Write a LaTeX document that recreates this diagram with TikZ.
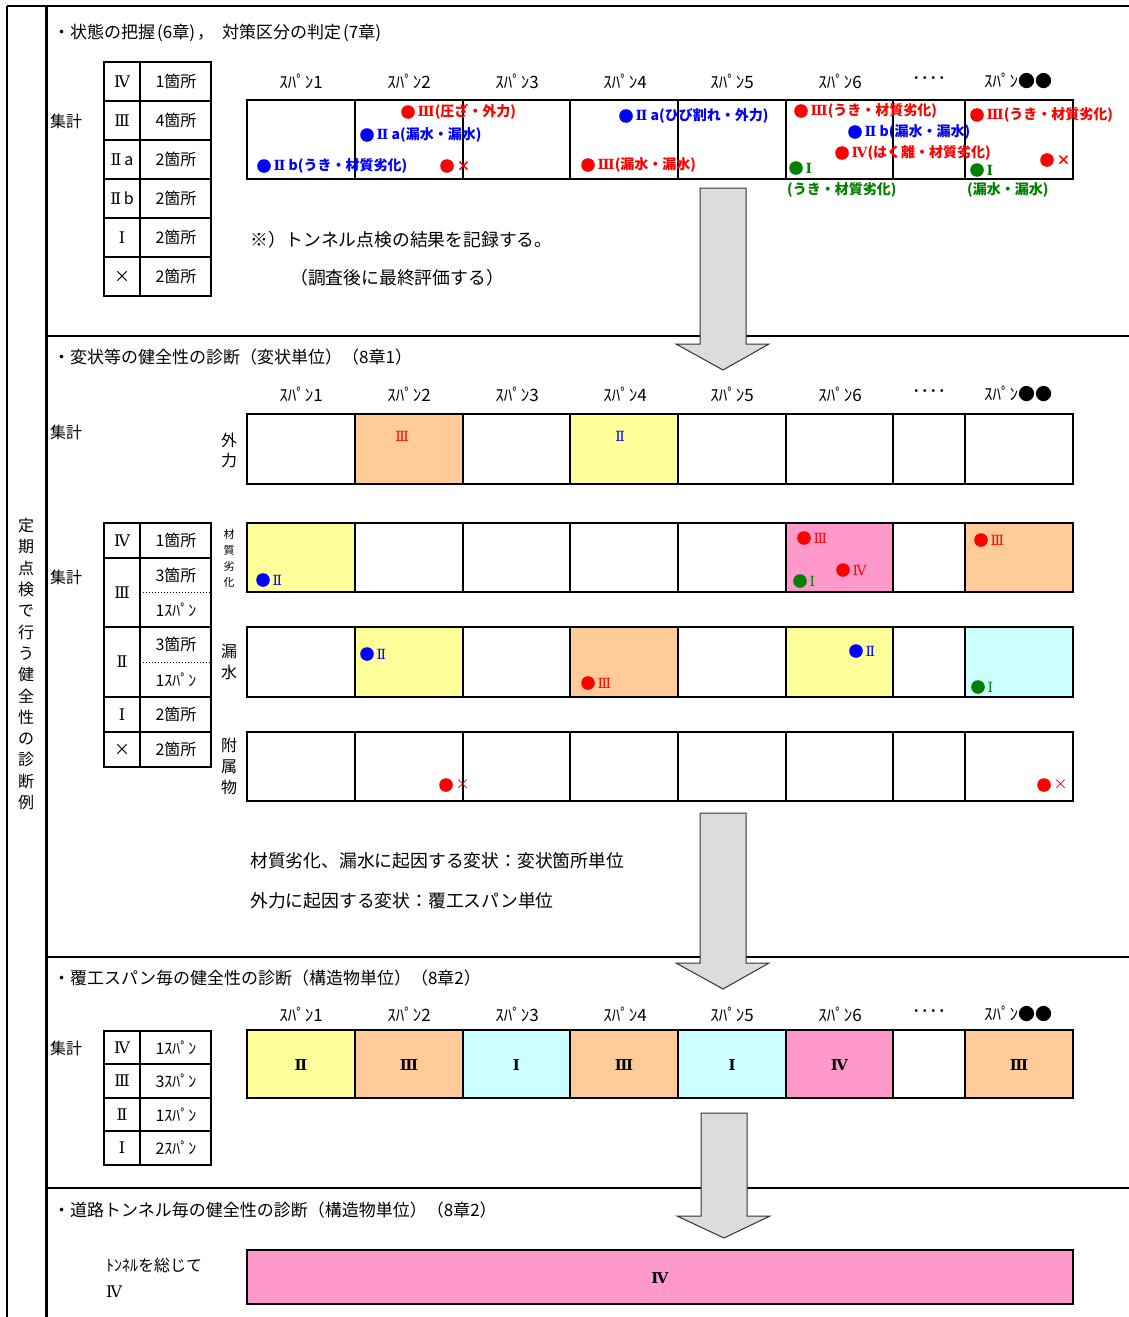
\documentclass[tikz,border=0pt]{standalone}
\usepackage{fontspec}
\setmainfont{Noto Sans CJK JP}
\newfontfamily\rmnfont{DejaVu Serif}
\newcommand\RN[1]{{\rmnfont #1}}
\newcommand\myfs[1]{\fontsize{#1}{#1}\selectfont}
\definecolor{cy}{HTML}{FFFF99}
\definecolor{co}{HTML}{FFCC99}
\definecolor{cp}{HTML}{FF99CC}
\definecolor{cc}{HTML}{CCFFFF}
\definecolor{ag}{HTML}{DCDCDC}
\definecolor{rd}{HTML}{FF0000}
\definecolor{bl}{HTML}{0000FF}
\definecolor{gr}{HTML}{008000}
\tikzset{
  ttl/.style={anchor=west, inner sep=0, font=\myfs{17}},
  txt/.style={anchor=west, inner sep=0, font=\myfs{17.8}},
  lab/.style={inner sep=0, font=\myfs{16}},
  spl/.style={inner sep=0, font=\myfs{17}},
  tbl/.style={line width=2},
  grd/.style={line width=1.6},
  bann/.style={inner sep=0, font=\bfseries\myfs{14}},
  rann/.style={inner sep=0, font=\myfs{14}},
  bigarrow/.style={fill=ag, draw=black!80, line width=1},
}
\newcommand\ann[6]{%
  \fill[#2] (#3,#4) circle (6.8);
  \node[#6, text=#2, anchor=west] (#1) at ({#3+9.5},#4) {#5};}
\newcommand\gridrow[2]{%
  \foreach \xx in {355,463,570,678,786,893,965} \draw[grd] (\xx,#1) -- (\xx,#2);
  \draw[tbl] (247,#1) rectangle (1073,#2);}
\newcommand\spanlabels[2]{%
  \foreach \xx/\lb [count=\i] in {301/ｽﾊﾟﾝ1,409/ｽﾊﾟﾝ2,517/ｽﾊﾟﾝ3,625/ｽﾊﾟﾝ4,732/ｽﾊﾟﾝ5,840/ｽﾊﾟﾝ6,929/････,1018/ｽﾊﾟﾝ●●}
    \node[spl] (#1\i) at (\xx,#2) {\lb};}
\begin{document}
\begin{tikzpicture}[x=1pt,y=-1pt]
\useasboundingbox[fill=white] (0,0) rectangle (1129,1317);
% ---------- frame ----------
\draw[line width=2] (7,6) -- (1129,6);
\draw[line width=1.5] (7,6) -- (7,1317);
\draw[line width=3] (46,6) -- (46,1317);
\draw[line width=2] (46,336) -- (1129,336);
\draw[line width=2] (46,957) -- (1129,957);
\draw[line width=1.2] (46,1188) -- (1129,1188);
\node[inner sep=0, align=center, text width=18, font=\fontsize{16}{21.3}\selectfont] (vt) at (26,664)
  {定\\期\\点\\検\\で\\行\\う\\健\\全\\性\\の\\診\\断\\例};

% ---------- section 1 ----------
\node[ttl] (t1) at (53,33) {・状態の把握\hspace{2pt}(6章)\hspace{2pt}，\hspace{8pt}対策区分の判定\hspace{2pt}(7章)};
\node[lab, anchor=west] (s1) at (50,121) {集計};
\draw[tbl] (104,62) rectangle (211,296);
\draw[tbl] (140,62) -- (140,296);
\foreach \yy in {101,140,179,218,257} \draw[tbl] (104,\yy) -- (211,\yy);
\foreach \yy/\ra/\rb [count=\i] in {81.5/\RN{Ⅳ}/1箇所,120.5/\RN{Ⅲ}/4箇所,159.5/\RN{Ⅱ}\,a/2箇所,198.5/\RN{Ⅱ}\,b/2箇所,237.5/\RN{Ⅰ}/2箇所,276.5/×/2箇所}{
  \node[lab] (ta\i) at (122,\yy) {\ra};
  \node[lab] (tb\i) at (176,\yy) {\rb};}
\spanlabels{sa}{81}
\gridrow{100}{179}
\ann{a1}{rd}{408}{112}{\RN{Ⅲ}(圧ざ・外力)}{bann}
\ann{a2}{bl}{367}{135}{\RN{Ⅱ} a(漏水・漏水)}{bann}
\ann{a3}{bl}{264}{166}{\RN{Ⅱ} b(うき・材質劣化)}{bann}
\ann{a4}{rd}{447}{166}{×}{bann}
\ann{a5}{bl}{626}{116}{\RN{Ⅱ} a(ひび割れ・外力)}{bann}
\ann{a6}{rd}{588}{165}{\RN{Ⅲ}(漏水・漏水)}{bann}
\ann{a7}{rd}{801}{111}{\RN{Ⅲ}(うき・材質劣化)}{bann}
\ann{a8}{bl}{855}{132}{\RN{Ⅱ} b(漏水・漏水)}{bann}
\ann{a9}{rd}{842}{153}{\RN{Ⅳ}(はく離・材質劣化)}{bann}
\ann{a10}{gr}{796}{168}{\RN{Ⅰ}}{bann}
\node[bann, text=gr, anchor=west] (a10b) at (787,190) {(うき・材質劣化)};
\ann{a11}{rd}{977}{115}{\RN{Ⅲ}(うき・材質劣化)}{bann}
\ann{a12}{gr}{977}{170}{\RN{Ⅰ}}{bann}
\node[bann, text=gr, anchor=west] (a12b) at (967,190) {(漏水・漏水)};
\ann{a13}{rd}{1047}{160}{×}{bann}
\node[txt] (n1) at (250,240) {※）トンネル点検の結果を記録する。};
\node[txt] (n2) at (290,278) {（調査後に最終評価する）};
\draw[bigarrow] (700,188) -- (746,188) -- (746,344) -- (769,344) -- (723,370) -- (676,344) -- (700,344) -- cycle;

% ---------- section 2 ----------
\node[ttl] (t2) at (53,357) {・変状等の健全性の診断（変状単位）（8章1）};
\spanlabels{sb}{394}
\node[lab, anchor=west] (s2) at (50,432) {集計};
\node[lab, anchor=west] (s3) at (50,577) {集計};
% 外力
\node[inner sep=0, align=center, font=\fontsize{16}{20}\selectfont] (l1) at (229,450) {外\\力};
\fill[co] (355,414) rectangle (463,484);
\fill[cy] (570,414) rectangle (678,484);
\gridrow{414}{484}
\node[rann, text=rd] (b1) at (402,436) {\RN{Ⅲ}};
\node[rann, text=bl] (b2) at (620,436) {\RN{Ⅱ}};
% 材質劣化
\node[inner sep=0, align=center, font=\fontsize{11}{16}\selectfont] (l2) at (229,558) {材\\質\\劣\\化};
\fill[cy] (247,523) rectangle (355,592);
\fill[cp] (786,523) rectangle (893,592);
\fill[co] (965,523) rectangle (1073,592);
\gridrow{523}{592}
\ann{c1}{bl}{263}{580}{\RN{Ⅱ}}{rann}
\ann{c2}{rd}{804}{538}{\RN{Ⅲ}}{rann}
\ann{c3}{rd}{843}{570}{\RN{Ⅳ}}{rann}
\ann{c4}{gr}{800}{581}{ \RN{Ⅰ}}{rann}
\ann{c5}{rd}{981}{540}{\RN{Ⅲ}}{rann}
% 漏水
\node[inner sep=0, align=center, font=\fontsize{16}{21}\selectfont] (l3) at (229,662) {漏\\水};
\fill[cy] (355,627) rectangle (463,697);
\fill[co] (570,627) rectangle (678,697);
\fill[cy] (786,627) rectangle (893,697);
\fill[cc] (965,627) rectangle (1073,697);
\gridrow{627}{697}
\ann{d1}{bl}{367}{654}{\RN{Ⅱ}}{rann}
\ann{d2}{rd}{588}{683}{\RN{Ⅲ}}{rann}
\ann{d3}{bl}{856}{651}{\RN{Ⅱ}}{rann}
\ann{d4}{gr}{978}{687}{ \RN{Ⅰ}}{rann}
% 附属物
\node[inner sep=0, align=center, font=\fontsize{16}{21}\selectfont] (l4) at (229,766) {附\\属\\物};
\gridrow{732}{801}
\ann{e1}{rd}{446}{785}{×}{rann}
\ann{e2}{rd}{1044}{785}{×}{rann}
% table 2
\draw[tbl] (104,523) rectangle (211,767);
\draw[tbl] (140,523) -- (140,767);
\foreach \yy in {558,627,697,732} \draw[tbl] (104,\yy) -- (211,\yy);
\draw[dotted, line width=1] (140,592) -- (211,592);
\draw[dotted, line width=1] (140,662) -- (211,662);
\node[lab] (ua1) at (122,540.5) {\RN{Ⅳ}};
\node[lab] (ua2) at (122,592.5) {\RN{Ⅲ}};
\node[lab] (ua3) at (122,662) {\RN{Ⅱ}};
\node[lab] (ua4) at (122,714.5) {\RN{Ⅰ}};
\node[lab] (ua5) at (122,749.5) {×};
\node[lab] (ub1) at (176,540.5) {1箇所};
\node[lab] (ub2) at (176,575) {3箇所};
\node[lab] (ub3) at (176,610) {1ｽﾊﾟﾝ};
\node[lab] (ub4) at (176,644.5) {3箇所};
\node[lab] (ub5) at (176,679.5) {1ｽﾊﾟﾝ};
\node[lab] (ub6) at (176,714.5) {2箇所};
\node[lab] (ub7) at (176,749.5) {2箇所};
\node[txt] (m1) at (250,861) {材質劣化、漏水に起因する変状：変状箇所単位};
\node[txt] (m2) at (250,901) {外力に起因する変状：覆工スパン単位};
\draw[bigarrow] (700,813) -- (746,813) -- (746,963) -- (769,963) -- (723,989) -- (676,963) -- (700,963) -- cycle;

% ---------- section 3 ----------
\node[ttl] (t3) at (53,978) {・覆工スパン毎の健全性の診断（構造物単位）（8章2）};
\spanlabels{sc}{1014}
\node[lab, anchor=west] (s4) at (50,1048) {集計};
\fill[cy] (247,1030) rectangle (355,1098);
\fill[co] (355,1030) rectangle (463,1098);
\fill[cc] (463,1030) rectangle (570,1098);
\fill[co] (570,1030) rectangle (678,1098);
\fill[cc] (678,1030) rectangle (786,1098);
\fill[cp] (786,1030) rectangle (893,1098);
\fill[co] (965,1030) rectangle (1073,1098);
\gridrow{1030}{1098}
\foreach \xx/\rn [count=\i] in {301/Ⅱ,409/Ⅲ,516.5/Ⅰ,624/Ⅲ,732/Ⅰ,839.5/Ⅳ,1019/Ⅲ}
  \node[inner sep=0, text=black, font=\rmnfont\bfseries\myfs{15}] (f\i) at (\xx,1065) {\rn};
\draw[tbl] (104,1031) rectangle (211,1165);
\draw[tbl] (140,1031) -- (140,1165);
\foreach \yy in {1064,1098,1131} \draw[tbl] (104,\yy) -- (211,\yy);
\foreach \yy/\ra/\rb [count=\i] in {1047.5/\RN{Ⅳ}/1ｽﾊﾟﾝ,1081/\RN{Ⅲ}/3ｽﾊﾟﾝ,1114.5/\RN{Ⅱ}/1ｽﾊﾟﾝ,1148/\RN{Ⅰ}/2ｽﾊﾟﾝ}{
  \node[lab] (va\i) at (122,\yy) {\ra};
  \node[lab] (vb\i) at (176,\yy) {\rb};}
\draw[bigarrow] (701,1113) -- (747,1113) -- (747,1216) -- (770,1216) -- (724,1238) -- (677,1216) -- (701,1216) -- cycle;

% ---------- section 4 ----------
\node[ttl] (t4) at (53,1210) {・道路トンネル毎の健全性の診断（構造物単位）（8章2）};
\node[lab, anchor=west] (g1) at (106,1265) {ﾄﾝﾈﾙを総じて};
\node[lab, anchor=west] (g2) at (106,1292) {\RN{Ⅳ}};
\draw[tbl, fill=cp] (247,1250) rectangle (1073,1304);
\node[inner sep=0, text=black, font=\rmnfont\bfseries\myfs{15}] (g3) at (660,1278) {Ⅳ};
\end{tikzpicture}
\end{document}
